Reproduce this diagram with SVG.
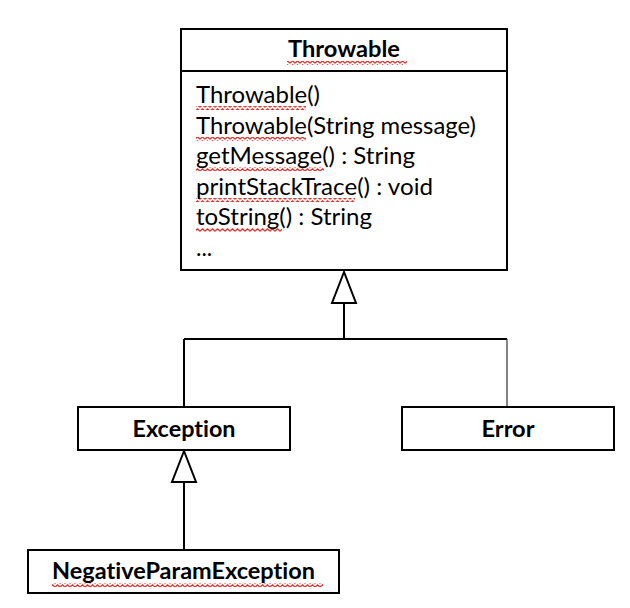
<svg xmlns="http://www.w3.org/2000/svg" width="630" height="608" viewBox="0 0 630 608">
<style>
.box{fill:#fff;stroke:#000;stroke-width:2}
.ln{fill:none;stroke:#000;stroke-width:2}
.thin{fill:none;stroke:#333;stroke-width:1.2}
.hd{fill:#fff;stroke:#000;stroke-width:2;stroke-linejoin:miter}
.t{font-family:Lato,"Open Sans","Liberation Sans",sans-serif;fill:#000;font-variant-ligatures:none}
.b{font-weight:bold;font-size:22px}
.m{font-size:23px}
.sq{fill:url(#wave)}
</style>
<defs>
<pattern id="wave" patternUnits="userSpaceOnUse" width="5" height="4" x="0" y="0">
<path d="M0,3.2 L2.5,0.8 L5,3.2" fill="none" stroke="#e8322b" stroke-width="1.2"/>
</pattern>
</defs>
<rect width="630" height="608" fill="#fff"/>
<g id="connectors">
<path class="ln" d="M344,303 V339 M184,339 H507 M184,339 V407"/>
<path class="thin" d="M507,339 V407"/>
<polygon class="hd" points="344,272 332,303 356,303"/>
<path class="ln" d="M184,482 V550"/>
<polygon class="hd" points="184,451 172,482 196,482"/>
</g>
<g id="throwable">
<rect class="box" x="181" y="29" width="326" height="241"/>
<line class="ln" x1="181" y1="71" x2="507" y2="71"/>
<rect class="sq" x="287" y="61" width="120" height="4"/>
<text class="t b" x="344" y="57" text-anchor="middle" textLength="112" lengthAdjust="spacingAndGlyphs">Throwable</text>
<rect class="sq" x="196" y="106" width="110" height="4"/>
<rect class="sq" x="196" y="137" width="110" height="4"/>
<rect class="sq" x="196" y="167" width="128" height="4"/>
<rect class="sq" x="196" y="198" width="159" height="4"/>
<rect class="sq" x="196" y="228" width="86" height="4"/>
<text class="t m" x="196" y="103" textLength="124" lengthAdjust="spacingAndGlyphs">Throwable()</text>
<text class="t m" x="196" y="133.5" textLength="280" lengthAdjust="spacingAndGlyphs">Throwable(String message)</text>
<text class="t m" x="196" y="164" textLength="219" lengthAdjust="spacingAndGlyphs">getMessage() : String</text>
<text class="t m" x="196" y="194.5" textLength="237" lengthAdjust="spacingAndGlyphs">printStackTrace() : void</text>
<text class="t m" x="196" y="225" textLength="176" lengthAdjust="spacingAndGlyphs">toString() : String</text>
<text class="t m" x="196" y="255.5">...</text>
</g>
<g id="exception">
<rect class="box" x="78" y="407" width="212" height="43"/>
<text class="t b" x="184" y="437" text-anchor="middle" textLength="103" lengthAdjust="spacingAndGlyphs">Exception</text>
</g>
<g id="error">
<rect class="box" x="402" y="407" width="212" height="43"/>
<text class="t b" x="508" y="437" text-anchor="middle" textLength="53" lengthAdjust="spacingAndGlyphs">Error</text>
</g>
<g id="negativeparamexception">
<rect class="box" x="28" y="550" width="311" height="43"/>
<rect class="sq" x="52" y="583" width="271" height="4"/>
<text class="t b" x="183.5" y="579" text-anchor="middle" textLength="263" lengthAdjust="spacingAndGlyphs">NegativeParamException</text>
</g>
</svg>
